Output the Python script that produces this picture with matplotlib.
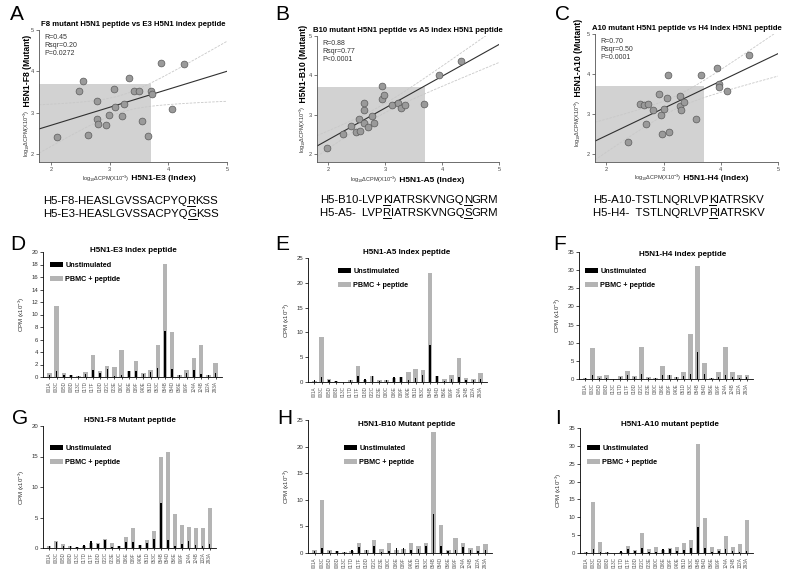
import matplotlib
matplotlib.use("Agg")
import matplotlib.pyplot as plot
from matplotlib.patches import Rectangle
from matplotlib.lines import Line2D
import numpy as np

plot.rcParams['font.family'] = ['Liberation Sans', 'DejaVu Sans']
plot.rcParams['mathtext.fontset'] = 'custom'
plot.rcParams['mathtext.rm'] = 'Liberation Sans'
plot.rcParams['mathtext.it'] = 'Liberation Sans:italic'
plot.rcParams['mathtext.bf'] = 'Liberation Sans:bold'

W_PX = 800
H_PX = 578

# ---- scatter data: log10 dCPM (x10^-3), index peptide vs mutant peptide
E3_INDEX_LOG = [2.11, 2.48, 2.55, 2.63, 2.78, 2.79, 2.80, 2.94, 2.99, 3.08, 3.09, 3.21,
                3.25, 3.34, 3.41, 3.51, 3.56, 3.65, 3.71, 3.72, 3.87, 4.06, 4.27]
F8_MUTANT_LOG = [2.40, 3.52, 3.76, 2.45, 3.28, 2.85, 2.73, 2.69, 2.95, 3.58, 3.13, 2.92,
                 3.20, 3.83, 3.51, 3.52, 2.79, 2.42, 3.52, 3.46, 4.20, 3.09, 4.18]

A5_INDEX_LOG = [1.98, 2.25, 2.40, 2.48, 2.55, 2.54, 2.62, 2.63, 2.63, 2.70, 2.76, 2.81,
                2.95, 2.95, 2.98, 3.11, 3.23, 3.27, 3.35, 3.68, 3.94, 4.33]
B10_MUTANT_LOG = [2.15, 2.51, 2.72, 2.57, 2.60, 2.88, 2.78, 3.13, 3.30, 2.69, 2.97, 2.78,
                  3.41, 3.73, 3.49, 3.25, 3.29, 3.17, 3.25, 3.27, 4.00, 4.36]

H4_INDEX_LOG = [2.37, 2.58, 2.66, 2.72, 2.70, 2.82, 2.92, 2.95, 2.97, 3.01, 3.06, 3.07,
                3.09, 3.28, 3.28, 3.31, 3.36, 3.56, 3.66, 3.94, 3.96, 3.96, 4.10, 4.49]
A10_MUTANT_LOG = [2.30, 3.26, 3.23, 3.24, 2.75, 3.10, 3.50, 2.98, 2.50, 3.12, 3.39, 3.97,
                  2.54, 3.45, 3.21, 3.10, 3.30, 2.87, 3.98, 4.15, 3.74, 3.67, 3.57, 4.48]

STATS_A = "R=0.45\nRsqr=0.20\nP=0.0272"
STATS_B = "R=0.88\nRsqr=0.77\nP<0.0001"
STATS_C = "R=0.70\nRsqr=0.50\nP=0.0001"

CUTOFF = 3.7      # shaded negative region
T95 = 2.07        # t value, 95% band

# ---- bar data: CPM (x10^-3) per donor
PATIENTS = ["001A", "003C", "005D", "008D", "013C", "017D", "017F", "018D", "022C", "023E",
            "030C", "036E", "039F", "040E", "051D", "053C", "054B", "054D", "056E", "069F",
            "124A", "124B", "132A", "293A"]
UNSTIM = [0.4, 1.0, 0.4, 0.3, 0.1, 0.5, 1.2, 0.6, 1.3, 0.2, 0.4, 1.0, 1.0, 0.5, 0.8, 1.4,
          7.4, 1.3, 0.3, 0.6, 1.1, 0.5, 0.4, 0.6]
E3_INDEX = [0.6, 11.3, 0.6, 0.4, 0.15, 0.8, 3.6, 1.0, 1.8, 1.6, 4.4, 0.9, 2.5, 0.6, 1.2, 5.1,
            18.1, 7.2, 0.3, 1.2, 3.1, 5.2, 0.4, 2.2]
A5_INDEX = [0.3, 9.0, 0.6, 0.2, 0.05, 0.4, 3.3, 0.4, 1.3, 0.4, 0.5, 0.8, 1.0, 2.0, 2.6, 2.5,
            22.0, 1.3, 0.7, 1.4, 4.8, 0.8, 0.6, 1.9]
H4_INDEX = [0.4, 8.6, 0.7, 1.1, 0.1, 0.8, 2.3, 0.8, 8.9, 0.6, 0.4, 3.6, 1.0, 0.5, 1.9, 12.3,
            31.1, 4.5, 0.3, 2.0, 8.8, 1.9, 1.1, 1.1]
F8_MUTANT = [0.4, 1.1, 0.7, 0.3, 0.2, 0.4, 0.9, 0.8, 1.5, 0.8, 0.3, 1.8, 3.2, 0.5, 1.3, 2.8,
             14.9, 15.7, 5.6, 3.7, 3.4, 3.2, 3.3, 6.6]
B10_MUTANT = [0.5, 10.0, 0.5, 0.3, 0.1, 0.3, 1.8, 0.5, 2.5, 0.7, 1.9, 0.6, 0.7, 1.8, 1.4, 1.9,
              22.7, 5.2, 0.5, 2.9, 1.9, 0.9, 1.3, 1.7]
A10_MUTANT = [0.4, 14.3, 3.2, 0.3, 0.1, 0.3, 2.0, 0.8, 5.5, 1.2, 1.7, 0.8, 1.3, 1.7, 2.8, 3.6,
              30.4, 9.8, 1.8, 1.2, 4.8, 1.7, 2.4, 9.2]

SMALL_LABEL = r"log$_{10}$$\Delta$CPM(X10$^{-3}$)"


def px_axes(fig, left, top, right, bottom):
    return fig.add_axes([left / W_PX, 1 - bottom / H_PX,
                         (right - left) / W_PX, (bottom - top) / H_PX])


def fig_text(fig, x, y, s, **kw):
    return fig.text(x / W_PX, 1 - y / H_PX, s, **kw)


def plot_scatter(ax, x, y, title, stats, xname, yname, xsplit, xlab_y, ysplit, ylab_x):
    x = np.array(x)
    y = np.array(y)
    ax.add_patch(Rectangle((1.8, 1.8), CUTOFF - 1.8, CUTOFF - 1.8,
                           facecolor='#d2d2d2', edgecolor='none', zorder=0))
    slope, icpt = np.polyfit(x, y, 1)
    grid = np.linspace(1.8, 5, 100)
    fit = icpt + slope * grid
    n = len(x)
    s = np.sqrt(np.sum((y - (icpt + slope * x)) ** 2) / (n - 2))
    sxx = np.sum((x - x.mean()) ** 2)
    half = T95 * s * np.sqrt(1.0 / n + (grid - x.mean()) ** 2 / sxx)
    ax.plot(grid, fit, color='#303030', lw=0.8, zorder=2)
    ax.plot(grid, fit + half, color='#c8c8c8', lw=0.6, ls=(0, (3, 1.5)), zorder=1)
    ax.plot(grid, fit - half, color='#c8c8c8', lw=0.6, ls=(0, (3, 1.5)), zorder=1)
    ax.scatter(x, y, s=24, c='#9a9a9a', edgecolors='#5a5a5a', linewidths=0.5, zorder=3)
    ax.set_xlim(1.8, 5)
    ax.set_ylim(1.8, 5)
    ax.set_xticks([2, 3, 4, 5])
    ax.set_yticks([2, 3, 4, 5])
    ax.tick_params(labelsize=4, length=2, width=0.5, pad=1.5, colors='#444444')
    for side in ['top', 'right']:
        ax.spines[side].set_visible(False)
    for side in ['left', 'bottom']:
        ax.spines[side].set_linewidth(0.6)
        ax.spines[side].set_color('#555555')
    ax.set_title(title, fontsize=5.6, fontweight='bold', pad=3)
    ax.text(0.03, 0.97, stats, transform=ax.transAxes, fontsize=5, va='top',
            ha='left', color='#333333', linespacing=1.2)
    # two-part axis labels: small log part + bold peptide name
    ax.text(xsplit, xlab_y, SMALL_LABEL, transform=ax.transAxes, fontsize=4,
            ha='right', va='baseline', color='#333333')
    ax.text(xsplit, xlab_y, " " + xname, transform=ax.transAxes, fontsize=6,
            fontweight='bold', ha='left', va='baseline')
    ax.text(ylab_x, ysplit, SMALL_LABEL, transform=ax.transAxes, fontsize=4,
            rotation=90, ha='right', va='top', color='#333333')
    ax.text(ylab_x, ysplit, " " + yname, transform=ax.transAxes, fontsize=6.2,
            fontweight='bold', rotation=90, ha='right', va='bottom')


def plot_bars(fig, ax, values, title, ymax, ystep, title_xy, legend_xy):
    pos = np.arange(len(PATIENTS))
    gray = ax.bar(pos, values, width=0.62, color='#b4b4b4', zorder=1)
    black = ax.bar(pos, UNSTIM, width=0.2, color='black', zorder=2)
    ax.set_xlim(-0.9, len(PATIENTS) - 0.1)
    ax.set_ylim(0, ymax)
    ax.set_yticks(np.arange(0, ymax + 1, ystep))
    ax.set_xticks(pos)
    ax.set_xticklabels(PATIENTS, rotation=90, fontsize=3.3, color='#555555')
    ax.tick_params(axis='y', labelsize=4.3, length=2, width=0.5, pad=1.5, labelcolor='#333333')
    ax.tick_params(axis='x', length=1.5, width=0.5, pad=1.5)
    for side in ['top', 'right']:
        ax.spines[side].set_visible(False)
    for side in ['left', 'bottom']:
        ax.spines[side].set_linewidth(0.6)
    ax.set_ylabel("CPM (x10$^{-3}$)", fontsize=4.3, labelpad=3, color='#333333')
    fig_text(fig, title_xy[0], title_xy[1], title, fontsize=5.8, fontweight='bold',
             ha='center', va='center')
    ax.legend([black, gray], ["Unstimulated", "PBMC + peptide"], loc='upper left',
              bbox_to_anchor=(legend_xy[0] / W_PX, 1 - legend_xy[1] / H_PX),
              bbox_transform=fig.transFigure, frameon=False,
              prop={'size': 5.2, 'weight': 'bold'}, handlelength=1.8, handleheight=0.75,
              handletextpad=0.3, labelspacing=0.9, borderpad=0, borderaxespad=0)


fig = plot.figure(figsize=(8, 5.78), dpi=100)

# ---- top row: scatter plots
ax_a = px_axes(fig, 39, 30, 227, 162)
plot_scatter(ax_a, E3_INDEX_LOG, F8_MUTANT_LOG,
             "F8 mutant H5N1 peptide vs E3 H5N1 index peptide", STATS_A,
             "H5N1-E3 (Index)", "H5N1-F8 (Mutant)", 0.48, -0.14, 0.40, -0.035)
ax_b = px_axes(fig, 317, 36, 499, 162)
plot_scatter(ax_b, A5_INDEX_LOG, B10_MUTANT_LOG,
             "B10 mutant H5N1 peptide vs A5 index H5N1 peptide", STATS_B,
             "H5N1-A5 (Index)", "H5N1-B10 (Mutant)", 0.44, -0.16, 0.45, -0.05)
ax_c = px_axes(fig, 595, 34, 778, 162)
plot_scatter(ax_c, H4_INDEX_LOG, A10_MUTANT_LOG,
             "A10 mutant H5N1 peptide vs H4 Index H5N1 peptide", STATS_C,
             "H5N1-H4 (Index)", "H5N1-A10 (Mutant)", 0.47, -0.14, 0.49, -0.064)

# ---- sequences with underlined substitution
SEQS = [
    (43, 204, [("H5-F8-HEASLGVSSACPYQ", False), ("R", True), ("KSS", False)]),
    (43, 217, [("H5-E3-HEASLGVSSACPYQ", False), ("G", True), ("KSS", False)]),
    (320, 203, [("H5-B10-LVP", False), ("K", True), ("IATRSKVNGQ", False), ("N", True),
                ("GRM", False)]),
    (320, 216, [("H5-A5-  LVP", False), ("R", True), ("IATRSKVNGQ", False), ("S", True),
                ("GRM", False)]),
    (593, 203, [("H5-A10-TSTLNQRLVP", False), ("K", True), ("IATRSKV", False)]),
    (593, 216, [("H5-H4-  TSTLNQRLVP", False), ("R", True), ("IATRSKV", False)]),
]
renderer = fig.canvas.get_renderer()
for x0, y0, parts in SEQS:
    cur_x = x0 / W_PX
    for txt, under in parts:
        t = fig.text(cur_x, 1 - y0 / H_PX, txt, fontsize=8.2, ha='left', va='baseline')
        bb = t.get_window_extent(renderer)
        if under:
            ybase = (H_PX - y0 - 1.5) / H_PX
            fig.add_artist(Line2D([bb.x0 / W_PX, bb.x1 / W_PX], [ybase, ybase],
                                  transform=fig.transFigure, color='black', lw=0.7))
        cur_x = bb.x1 / W_PX

# ---- bar charts
ax_d = px_axes(fig, 43, 252, 222, 377)
plot_bars(fig, ax_d, E3_INDEX, "H5N1-E3 Index peptide", 20, 2, (133, 250), (50, 262))
ax_e = px_axes(fig, 308, 258, 487, 382)
plot_bars(fig, ax_e, A5_INDEX, "H5N1-A5 Index peptide", 25, 5, (407, 252), (338, 268))
ax_f = px_axes(fig, 579, 252, 753, 379)
plot_bars(fig, ax_f, H4_INDEX, "H5N1-H4 index peptide", 35, 5, (683, 255), (585, 268))
ax_g = px_axes(fig, 43, 426, 216, 548)
plot_bars(fig, ax_g, F8_MUTANT, "H5N1-F8 Mutant peptide", 20, 5, (130, 420), (50, 445))
ax_h = px_axes(fig, 308, 420, 492, 553)
plot_bars(fig, ax_h, B10_MUTANT, "H5N1-B10 Mutant peptide", 25, 5, (407, 424), (344, 445))
ax_i = px_axes(fig, 580, 428, 753, 553)
plot_bars(fig, ax_i, A10_MUTANT, "H5N1-A10 mutant peptide", 35, 5, (670, 425), (587, 445))

# ---- panel letters
LETTERS = [("A", 10, 15), ("B", 275, 15), ("C", 555, 15),
           ("D", 10, 245), ("E", 275, 245), ("F", 553, 245),
           ("G", 12, 418), ("H", 277, 418), ("I", 555, 418)]
for letter, lx, ly in LETTERS:
    fig_text(fig, lx, ly, letter, fontsize=15, ha='left', va='center')

fig.savefig("out.png", dpi=100)
